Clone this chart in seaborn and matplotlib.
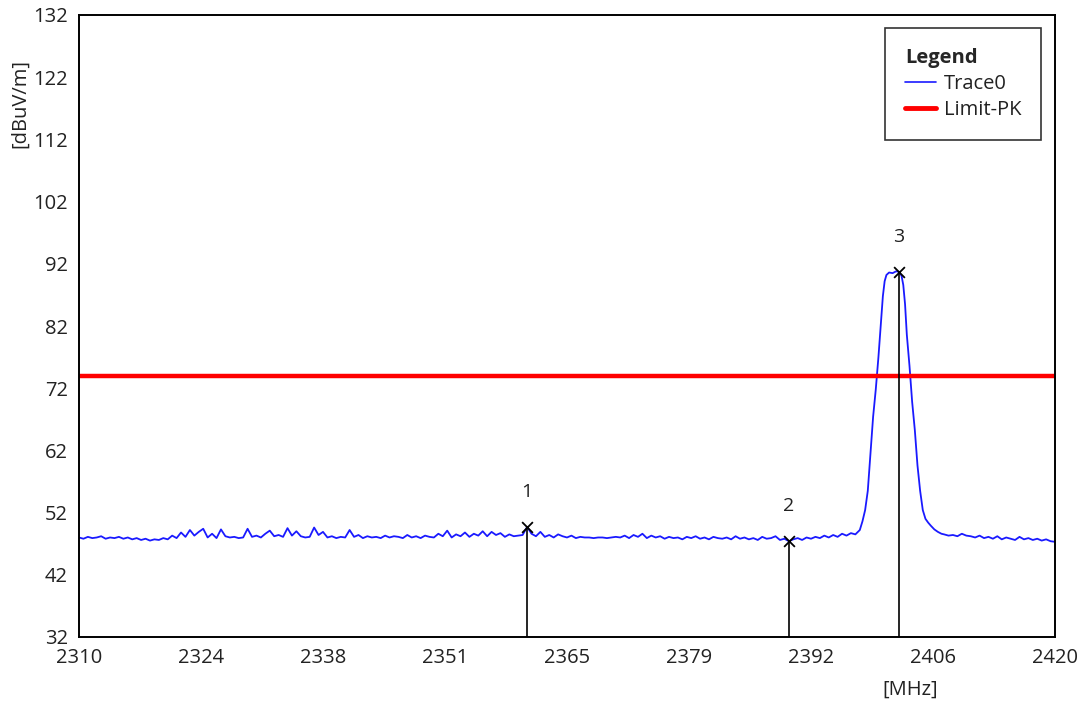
import numpy as np
import pandas as pd
import matplotlib
matplotlib.use("Agg")
import matplotlib.pyplot as plt
from matplotlib.lines import Line2D
import seaborn as sns

# ---------------- data ----------------
# noise floor, 0.5 MHz steps from 2310.0 to 2397.5
noise_start = 2310.0
noise_step = 0.5
noise_level = [
    48.0, 47.8, 48.1, 47.9, 48.0, 48.2, 47.8, 48.0, 47.9, 48.1,
    47.8, 48.0, 47.7, 47.9, 47.6, 47.8, 47.5, 47.7, 47.6, 47.9,
    47.7, 48.3, 47.9, 48.8, 48.1, 49.2, 48.3, 48.9, 49.4, 48.0,
    48.6, 47.9, 49.3, 48.2, 48.0, 48.1, 47.9, 48.0, 49.4, 48.1,
    48.3, 48.0, 48.6, 49.1, 48.2, 48.4, 48.1, 49.5, 48.3, 49.0,
    48.2, 48.0, 48.1, 49.6, 48.4, 48.9, 48.0, 48.2, 47.9, 48.1,
    48.0, 49.2, 48.1, 48.4, 47.9, 48.2, 48.0, 48.1, 47.9, 48.3,
    48.0, 48.2, 48.1, 47.9, 48.4, 48.0, 48.2, 47.9, 48.3, 48.1,
    48.0, 48.6, 48.2, 49.1, 48.0, 48.5, 48.2, 48.8, 48.1, 48.6,
    48.3, 49.0, 48.2, 48.9, 48.4, 48.7, 48.1, 48.5, 48.2, 48.3,
    48.4, 49.7, 48.6, 48.2, 48.9, 48.1, 48.4, 48.0, 48.5, 48.2,
    48.0, 48.3, 47.9, 48.1, 48.0, 48.0, 47.9, 48.0, 48.0, 47.9,
    48.0, 48.1, 48.0, 48.3, 47.9, 48.4, 48.1, 48.6, 47.9, 48.3,
    48.0, 48.2, 47.8, 48.1, 47.9, 48.0, 47.7, 48.1, 47.9, 48.2,
    47.8, 48.0, 47.7, 48.1, 47.9, 47.8, 48.0, 47.7, 48.2, 47.8,
    48.0, 47.7, 47.9, 47.6, 48.1, 47.8, 47.9, 48.2, 47.6, 47.8,
    47.4, 47.7, 47.9, 47.6, 48.0, 47.8, 48.1, 47.9, 48.3, 48.0,
    48.4, 48.1, 48.6, 48.3, 48.7, 48.5,
]

# carrier peak
peak_freq = [2398.0, 2398.3, 2398.6, 2398.9, 2399.2, 2399.5, 2399.8, 2400.1,
             2400.4, 2400.6, 2400.8, 2401.0, 2401.3, 2401.7, 2402.1, 2402.4,
             2402.7, 2402.9, 2403.1, 2403.3, 2403.6, 2403.9, 2404.2, 2404.5,
             2404.8, 2405.1, 2405.4, 2405.7, 2406.0, 2406.4, 2406.8, 2407.2]
peak_level = [49.2, 50.6, 52.4, 55.5, 61.5, 67.4, 71.8, 77.0,
              83.0, 86.8, 89.2, 90.2, 90.6, 90.5, 90.8, 90.7,
              90.1, 88.6, 85.5, 80.6, 75.6, 69.8, 65.3, 59.6,
              55.5, 52.4, 51.0, 50.4, 49.9, 49.3, 48.9, 48.6]

# tail, 0.5 MHz steps from 2407.5 to 2420.0
tail_start = 2407.5
tail_level = [
    48.5, 48.3, 48.4, 48.2, 48.6, 48.3, 48.2, 48.0, 48.3, 47.9,
    48.1, 47.8, 48.2, 47.7, 48.0, 47.8, 47.6, 48.1, 47.7, 47.9,
    47.6, 47.8, 47.5, 47.7, 47.4, 47.3,
]

limit_pk = 74.0

marker_freq = [2360.5, 2390.0, 2402.4]
marker_level = [49.7, 47.4, 90.7]
marker_names = ["1", "2", "3"]

x_ticks = [2310, 2323.75, 2337.5, 2351.25, 2365, 2378.75, 2392.5, 2406.25, 2420]
x_tick_labels = ["2310", "2324", "2338", "2351", "2365", "2379", "2392", "2406", "2420"]
y_ticks = [32, 42, 52, 62, 72, 82, 92, 102, 112, 122, 132]

# ---------------- build trace table ----------------
noise_freq = noise_start + noise_step * np.arange(len(noise_level))
tail_freq = tail_start + noise_step * np.arange(len(tail_level))
trace = pd.DataFrame({
    "freq": np.concatenate([noise_freq, peak_freq, tail_freq]),
    "level": np.concatenate([noise_level, peak_level, tail_level]),
})
markers = pd.DataFrame({"freq": marker_freq, "level": marker_level})

# ---------------- plot ----------------
sns.set_style("white")
plt.rcParams["font.family"] = ["Open Sans", "DejaVu Sans"]
text_col = "#222222"

fig = plt.figure(figsize=(10.82, 7.07), dpi=100)
ax = fig.add_axes([79 / 1082, 1 - 637 / 707, (1055 - 79) / 1082, (637 - 15) / 707])

sns.lineplot(data=trace, x="freq", y="level", ax=ax, color="#1a1aff",
             linewidth=1.3, sort=False, estimator=None)
ax.axhline(limit_pk, color="#ff0000", linewidth=3.2)

ax.vlines(marker_freq, 32, marker_level, color="black", linewidth=1.2)
sns.scatterplot(data=markers, x="freq", y="level", ax=ax, marker="x",
                color="black", s=60, linewidth=1.3, zorder=5)
for f, lv, name in zip(marker_freq, marker_level, marker_names):
    ax.annotate(name, (f, lv), xytext=(0, 25), textcoords="offset points",
                ha="center", va="center", fontsize=14, color=text_col)

ax.set_xlim(2310, 2420)
ax.set_ylim(32, 132)
ax.set_xticks(x_ticks)
ax.set_xticklabels(x_tick_labels)
ax.set_yticks(y_ticks)
ax.tick_params(length=0, labelsize=14.5, colors=text_col, pad=8)
ax.set_xlabel("")
ax.set_ylabel("")
for s in ax.spines.values():
    s.set_color("black")
    s.set_linewidth(1.4)

fig.text(20 / 1082, 1 - 104 / 707, "[dBuV/m]", rotation=90, ha="center",
         va="center", fontsize=14.5, color=text_col)
fig.text(910 / 1082, 1 - 690 / 707, "[MHz]", ha="center", va="center",
         fontsize=14.5, color=text_col)

handles = [Line2D([], [], color="#1a1aff", linewidth=1.2),
           Line2D([], [], color="#ff0000", linewidth=3.5)]
leg = ax.legend(handles, ["Trace0", "Limit-PK"], title="Legend",
                loc="upper right", bbox_to_anchor=(0.986, 0.979),
                fontsize=14.5, title_fontsize=14.5, frameon=True,
                fancybox=False, handlelength=1.5, handletextpad=0.4,
                borderpad=1.0, labelspacing=0.3, borderaxespad=0)
leg.get_title().set_fontweight("bold")
leg._legend_box.align = "left"
leg.get_frame().set_edgecolor("black")
leg.get_frame().set_linewidth(1.2)
for t in leg.get_texts():
    t.set_color(text_col)

fig.savefig("out.png", dpi=100)
